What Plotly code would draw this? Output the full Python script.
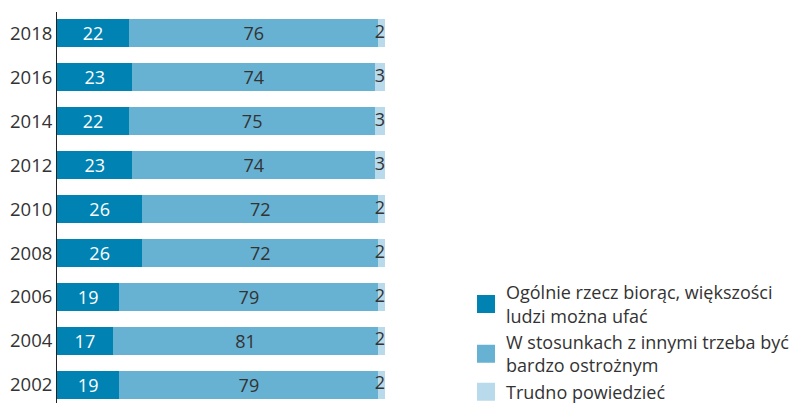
import plotly.graph_objects as go

years = ["2002", "2004", "2006", "2008", "2010", "2012", "2014", "2016", "2018"]
trust = [19, 17, 19, 26, 26, 23, 22, 23, 22]
careful = [79, 81, 79, 72, 72, 74, 75, 74, 76]
hard = [2, 2, 2, 2, 2, 3, 3, 3, 2]

names = ["Ogólnie rzecz biorąc, większości<br>ludzi można ufać",
         "W stosunkach z innymi trzeba być<br>bardzo ostrożnym",
         "Trudno powiedzieć"]
colors = ["#0083B3", "#67B1D2", "#B9DAEA"]

font = "Open Sans"
FS = 18
fig = go.Figure()
fig.add_trace(go.Bar(y=years, x=trust, orientation="h", name=names[0], showlegend=False,
                     marker=dict(color=colors[0], line=dict(width=0)),
                     text=trust, textposition="inside", insidetextanchor="middle", textangle=0,
                     textfont=dict(color="white", size=FS, family=font)))
fig.add_trace(go.Bar(y=years, x=careful, orientation="h", name=names[1], showlegend=False,
                     marker=dict(color=colors[1], line=dict(width=0)),
                     text=careful, textposition="inside", insidetextanchor="middle", textangle=0,
                     textfont=dict(color="#333333", size=FS, family=font)))
fig.add_trace(go.Bar(y=years, x=hard, orientation="h", name=names[2], showlegend=False,
                     marker=dict(color=colors[2], line=dict(width=0))))
totals = [a + b + c for a, b, c in zip(trust, careful, hard)]
fig.add_trace(go.Scatter(y=years, x=totals, mode="text", text=[str(v) for v in hard],
                         textposition="middle left", showlegend=False,
                         textfont=dict(color="#333333", size=FS, family=font),
                         hoverinfo="skip", cliponaxis=False))
# legend entries (larger square swatches)
for nm, col in zip(names, colors):
    fig.add_trace(go.Scatter(x=[None], y=[None], mode="markers", name=nm,
                             marker=dict(symbol="square", size=16, color=col,
                                         line=dict(color=col, width=2))))

fig.update_layout(
    barmode="stack", bargap=0.36,
    width=794, height=395,
    margin=dict(l=49, r=417, t=4, b=0, autoexpand=False),
    plot_bgcolor="white", paper_bgcolor="white",
    font=dict(family=font, size=FS, color="#333333"),
    uniformtext=dict(minsize=FS, mode="show"),
    xaxis=dict(range=[0, 100], visible=False, fixedrange=True, automargin=False),
    yaxis=dict(type="category", range=[-0.41, 8.48], showline=True, linecolor="#222222",
               linewidth=1, ticks="", showgrid=False, ticklabelstandoff=0, automargin=False,
               tickfont=dict(size=18.5, color="#333333", family=font)),
    legend=dict(x=1.247, y=-0.018, xanchor="left", yanchor="bottom",
                font=dict(size=FS, color="#333333", family=font),
                traceorder="normal", tracegroupgap=7, itemwidth=30),
    showlegend=True,
)
fig.write_html("out.html")
